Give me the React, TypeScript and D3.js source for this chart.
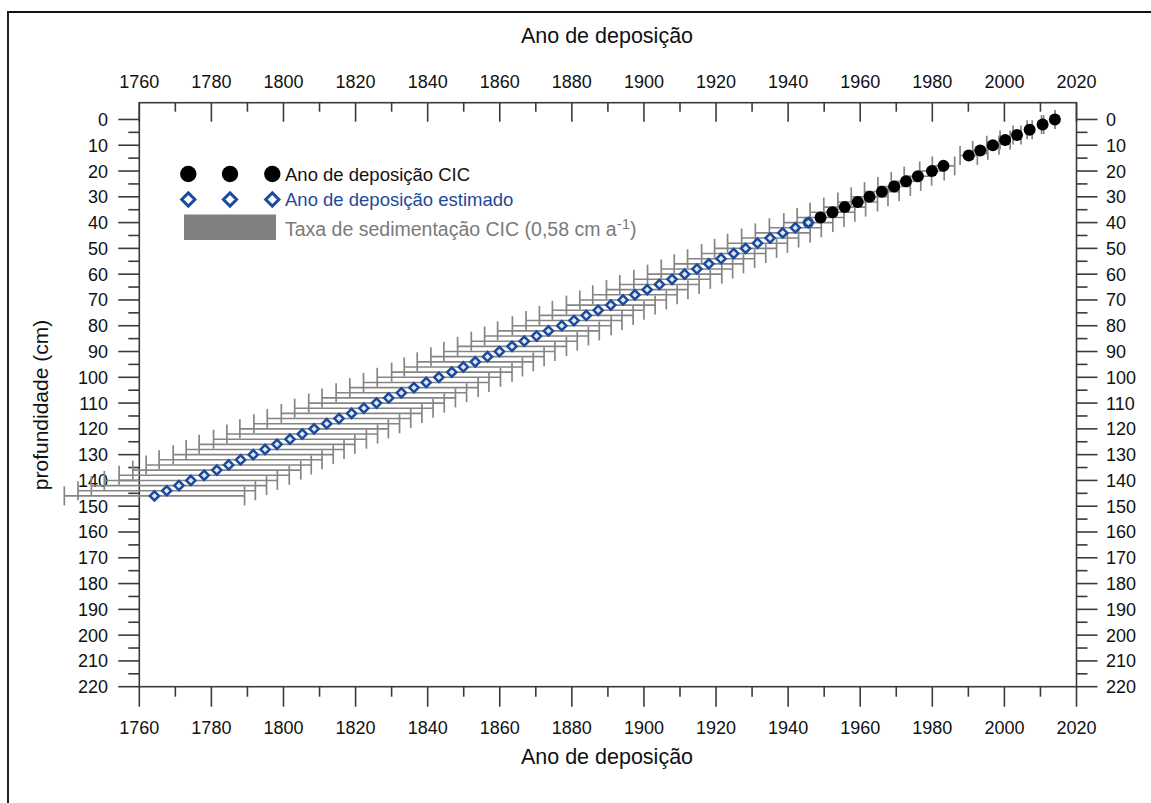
import React from "react";
import * as d3 from "d3";

// CIC dated points
const cicDepth = [0, 2, 4, 6, 8, 10, 12, 14, 18, 20, 22, 24, 26, 28, 30, 32, 34, 36, 38];
const cicYear = [2014.0, 2010.6, 2007.0, 2003.5, 2000.2, 1996.8, 1993.3, 1990.1, 1983.1, 1979.9, 1976.0, 1972.7, 1969.4, 1966.0, 1962.6, 1959.3, 1955.7, 1952.3, 1949.0];
const cicErr = [0, 0.3, 0.7, 1.1, 1.4, 1.7, 2.1, 2.4, 3.1, 3.4, 3.8, 4.1, 4.5, 4.8, 5.1, 5.5, 5.8, 6.2, 6.5];

// Estimated points
const estDepth = [40, 42, 44, 46, 48, 50, 52, 54, 56, 58, 60, 62, 64, 66, 68, 70, 72, 74, 76, 78, 80, 82, 84, 86, 88, 90, 92, 94, 96, 98, 100, 102, 104, 106, 108, 110, 112, 114, 116, 118, 120, 122, 124, 126, 128, 130, 132, 134, 136, 138, 140, 142, 144, 146];
const estYear = [1945.6, 1942.0, 1938.5, 1935.0, 1931.5, 1928.2, 1924.9, 1921.4, 1918.0, 1914.7, 1911.3, 1907.8, 1904.3, 1900.9, 1897.5, 1894.2, 1890.8, 1887.3, 1884.0, 1880.6, 1877.2, 1873.5, 1870.2, 1866.8, 1863.4, 1859.9, 1856.6, 1853.2, 1849.9, 1846.7, 1843.1, 1839.6, 1836.2, 1832.7, 1829.2, 1825.8, 1822.3, 1818.9, 1815.4, 1812.0, 1808.5, 1805.2, 1801.8, 1798.2, 1794.9, 1791.6, 1788.1, 1784.8, 1781.5, 1778.0, 1774.3, 1771.0, 1767.6, 1764.2];
const estErr = [6.8, 7.2, 7.6, 7.9, 8.3, 8.6, 8.9, 9.3, 9.6, 9.9, 10.3, 10.6, 11.0, 11.3, 11.7, 12.0, 12.3, 12.7, 13.0, 13.3, 13.7, 14.1, 14.4, 14.7, 15.1, 15.4, 15.7, 16.1, 16.4, 16.7, 17.1, 17.4, 17.8, 18.1, 18.5, 18.8, 19.2, 19.5, 19.9, 20.2, 20.6, 20.9, 21.2, 21.6, 21.9, 22.2, 22.6, 22.9, 23.3, 23.6, 24.0, 24.3, 24.6, 25.0];

const xMajorTicks = [1760, 1780, 1800, 1820, 1840, 1860, 1880, 1900, 1920, 1940, 1960, 1980, 2000, 2020];
const yMajorTicks = [0, 10, 20, 30, 40, 50, 60, 70, 80, 90, 100, 110, 120, 130, 140, 150, 160, 170, 180, 190, 200, 210, 220];

const xTitle = "Ano de deposição";
const yTitle = "profundidade (cm)";
const legendCIC = "Ano de deposição CIC";
const legendEst = "Ano de deposição estimado";
const legendRate = "Taxa de sedimentação CIC (0,58 cm a";

const FONT = "'Liberation Sans', Arial, sans-serif";
const BLUE = "#1c4a9c";
const AXIS = "#3a3a3a";
const BAR = "#858585";

export default function App() {
  const W = 1151, H = 803;
  const x = d3.scaleLinear().domain([1760, 2020]).range([139.3, 1076.5]);
  const y = d3.scaleLinear().domain([-6.5, 220]).range([102.7, 686.7]);
  const [x0, x1] = x.range();
  const [yTop, yBot] = y.range();

  const xMinor = d3.range(1770, 2020, 20);
  const yMinor = d3.range(5, 220, 10);
  const capH = 9.5;

  const diamond = (cx: number, cy: number, r: number) =>
    `M${cx},${cy - r}L${cx + r},${cy}L${cx},${cy + r}L${cx - r},${cy}Z`;

  const errBars = (years: number[], depths: number[], errs: number[], key: string) =>
    years.map((yr, i) => {
      const cy = y(depths[i]);
      const xl = x(yr - errs[i]);
      const xr = x(yr + errs[i]);
      return (
        <g key={key + i}>
          <line x1={xl} x2={xr} y1={cy} y2={cy} stroke={BAR} strokeWidth={1.6} />
          <line x1={xl} x2={xl} y1={cy - capH} y2={cy + capH} stroke={BAR} strokeWidth={1.7} />
          <line x1={xr} x2={xr} y1={cy - capH} y2={cy + capH} stroke={BAR} strokeWidth={1.7} />
        </g>
      );
    });

  return (
    <svg width={W} height={H} style={{ position: "absolute", left: 0, top: 0, background: "#fff" }} fontFamily={FONT}>
      {/* outer frame */}
      <line x1={8} x2={8} y1={11} y2={H} stroke="#222" strokeWidth={2} />
      <line x1={7} x2={W} y1={12} y2={12} stroke="#111" strokeWidth={2} />

      {/* plot frame */}
      <rect x={x0} y={yTop} width={x1 - x0} height={yBot - yTop} fill="none" stroke={AXIS} strokeWidth={1.6} />

      {/* top axis: ticks inward */}
      {xMajorTicks.map((t) => (
        <g key={"tx" + t}>
          <line x1={x(t)} x2={x(t)} y1={yTop} y2={yTop + 19} stroke={AXIS} strokeWidth={1.6} />
          <text x={x(t)} y={88} textAnchor="middle" fontSize={18} fill="#111">{t}</text>
        </g>
      ))}
      {xMinor.map((t) => (
        <line key={"txm" + t} x1={x(t)} x2={x(t)} y1={yTop} y2={yTop + 9} stroke={AXIS} strokeWidth={1.6} />
      ))}

      {/* bottom axis: ticks outward */}
      {xMajorTicks.map((t) => (
        <g key={"bx" + t}>
          <line x1={x(t)} x2={x(t)} y1={yBot} y2={yBot + 20} stroke={AXIS} strokeWidth={1.6} />
          <text x={x(t)} y={733.5} textAnchor="middle" fontSize={18} fill="#111">{t}</text>
        </g>
      ))}
      {xMinor.map((t) => (
        <line key={"bxm" + t} x1={x(t)} x2={x(t)} y1={yBot} y2={yBot + 10} stroke={AXIS} strokeWidth={1.6} />
      ))}

      {/* left axis */}
      {yMajorTicks.map((t) => (
        <g key={"ly" + t}>
          <line x1={x0 - 21} x2={x0} y1={y(t)} y2={y(t)} stroke={AXIS} strokeWidth={1.6} />
          <text x={108} y={y(t)} dy="0.36em" textAnchor="end" fontSize={18} fill="#111">{t}</text>
        </g>
      ))}
      {yMinor.map((t) => (
        <line key={"lym" + t} x1={x0 - 11} x2={x0} y1={y(t)} y2={y(t)} stroke={AXIS} strokeWidth={1.6} />
      ))}

      {/* right axis */}
      {yMajorTicks.map((t) => (
        <g key={"ry" + t}>
          <line x1={x1} x2={x1 + 21} y1={y(t)} y2={y(t)} stroke={AXIS} strokeWidth={1.6} />
          <text x={1106} y={y(t)} dy="0.36em" textAnchor="start" fontSize={18} fill="#111">{t}</text>
        </g>
      ))}
      {yMinor.map((t) => (
        <line key={"rym" + t} x1={x1} x2={x1 + 11} y1={y(t)} y2={y(t)} stroke={AXIS} strokeWidth={1.6} />
      ))}

      {/* titles */}
      <text x={607} y={43} textAnchor="middle" fontSize={21.5} fill="#111">{xTitle}</text>
      <text x={607} y={764} textAnchor="middle" fontSize={21.5} fill="#111">{xTitle}</text>
      <text transform={`translate(48,405) rotate(-90)`} textAnchor="middle" fontSize={21} fill="#111">{yTitle}</text>

      {/* error bars */}
      {errBars(estYear, estDepth, estErr, "ee")}
      {errBars(cicYear, cicDepth, cicErr, "ce")}

      {/* CIC points */}
      {cicYear.map((yr, i) => (
        <circle key={"c" + i} cx={x(yr)} cy={y(cicDepth[i])} r={6} fill="#000" />
      ))}

      {/* estimated points */}
      <circle cx={x(estYear[0])} cy={y(estDepth[0])} r={5.6} fill={BLUE} />
      {estYear.map((yr, i) => (
        <path key={"d" + i} d={diamond(x(yr), y(estDepth[i]), 4.6)} fill="#dfe7f5" stroke={BLUE} strokeWidth={2.5} />
      ))}

      {/* legend */}
      {[188.3, 230, 272.3].map((lx) => (
        <circle key={"lc" + lx} cx={lx} cy={174} r={8.2} fill="#000" />
      ))}
      <text x={285} y={174} dy="0.36em" fontSize={18.5} fill="#111">{legendCIC}</text>
      {[188.3, 230, 272.3].map((lx) => (
        <path key={"ld" + lx} d={diamond(lx, 199.5, 6.6)} fill="#fff" stroke={BLUE} strokeWidth={3} />
      ))}
      <text x={285} y={199.5} dy="0.36em" fontSize={18.5} fill={BLUE}>{legendEst}</text>
      <rect x={184} y={214.5} width={92} height={25.5} fill="#808080" />
      <text x={285} y={229} dy="0.36em" fontSize={19.5} fill="#7a7a7a">
        {legendRate}
        <tspan dy={-7} fontSize={15}>-1</tspan>
        <tspan dy={7}>)</tspan>
      </text>
    </svg>
  );
}
